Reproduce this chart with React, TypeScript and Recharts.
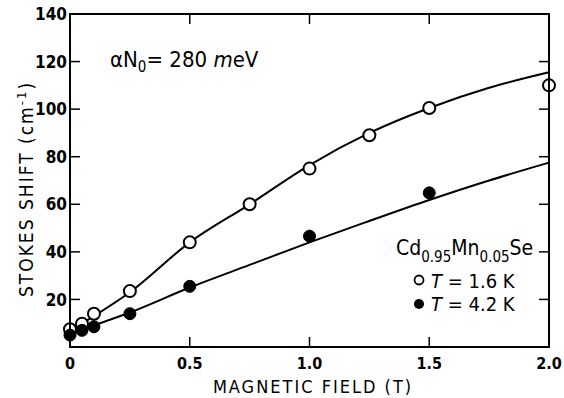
import React from 'react'
import { ComposedChart, Line, Scatter, XAxis, YAxis } from 'recharts'

// measured points, T = 1.6 K (open) and T = 4.2 K (filled)
const fieldOpen = [0, 0.05, 0.1, 0.25, 0.5, 0.75, 1.0, 1.25, 1.5, 2.0]
const shiftOpen = [7.5, 9.8, 14, 23.5, 44, 60, 75, 89, 100.5, 110]
const fieldFilled = [0, 0.05, 0.1, 0.25, 0.5, 1.0, 1.5]
const shiftFilled = [5, 7, 8.5, 14, 25.5, 46.6, 64.8]

// fitted curves
const fitField = [0, 0.1, 0.25, 0.5, 0.75, 1.0, 1.25, 1.5, 1.75, 2.0]
const fitOpen = [7, 13, 23, 44, 60, 76.5, 90, 100.5, 109, 115.5]
const fitFilled = [5, 9, 14.5, 25, 34.5, 44, 53, 61.8, 70, 77.5]

const xTicks = [0, 0.5, 1.0, 1.5, 2.0]
const yTicks = [20, 40, 60, 80, 100, 120, 140]

const W = 564
const H = 398
const LEFT = 70
const TOP = 14
const RIGHT = 549
const BOTTOM = 347
const TICK_LEN = 10
const FONT = '"DejaVu Sans Condensed", "DejaVu Sans", sans-serif'

const zip = (xs: number[], ys: number[]) => xs.map((x, i) => ({ x, y: ys[i] }))
const openPts = zip(fieldOpen, shiftOpen)
const filledPts = zip(fieldFilled, shiftFilled)
const fitOpenPts = zip(fitField, fitOpen)
const fitFilledPts = zip(fitField, fitFilled)

function YTick(props: any) {
  const { y, payload } = props
  const v = payload.value
  const inner = v !== 140
  return (
    <g>
      {inner && <line x1={LEFT} x2={LEFT + TICK_LEN} y1={y} y2={y} stroke="#000" strokeWidth={1.5} />}
      {inner && <line x1={RIGHT - TICK_LEN} x2={RIGHT} y1={y} y2={y} stroke="#000" strokeWidth={1.5} />}
      <text x={LEFT - 3} y={y} dy="0.36em" textAnchor="end" fontFamily={FONT} fontWeight="bold" fontSize={17} fill="#000">
        {v}
      </text>
    </g>
  )
}

function XTick(props: any) {
  const { x, payload } = props
  const v = payload.value
  const inner = v > 0 && v < 2
  return (
    <g>
      {inner && <line x1={x} x2={x} y1={BOTTOM} y2={BOTTOM - TICK_LEN} stroke="#000" strokeWidth={1.5} />}
      {inner && <line x1={x} x2={x} y1={TOP} y2={TOP + TICK_LEN} stroke="#000" strokeWidth={1.5} />}
      <text x={x} y={BOTTOM + 16} dy="0.36em" textAnchor="middle" fontFamily={FONT} fontWeight="bold" fontSize={16} fill="#000">
        {v === 0 ? '0' : v.toFixed(1)}
      </text>
    </g>
  )
}

const OpenDot = (p: any) => <circle cx={p.cx} cy={p.cy} r={6} fill="#fff" stroke="#000" strokeWidth={2} />
const FilledDot = (p: any) => <circle cx={p.cx} cy={p.cy} r={6} fill="#000" stroke="#000" strokeWidth={1} />

export default function App() {
  return (
    <div style={{ position: 'absolute', left: 0, top: 0, width: W, height: H, background: '#fff' }}>
      <ComposedChart
        width={W}
        height={H}
        margin={{ top: TOP, right: W - RIGHT, bottom: 21, left: 20 }}
      >
        <XAxis
          dataKey="x"
          type="number"
          domain={[0, 2]}
          ticks={xTicks}
          height={30}
          axisLine={false}
          tickLine={false}
          tick={<XTick />}
          allowDuplicatedCategory={false}
        />
        <YAxis
          type="number"
          domain={[0, 140]}
          ticks={yTicks}
          width={50}
          axisLine={false}
          tickLine={false}
          tick={<YTick />}
        />
        <Line data={fitOpenPts} dataKey="y" type="monotone" stroke="#000" strokeWidth={2} dot={false} activeDot={false} isAnimationActive={false} />
        <Line data={fitFilledPts} dataKey="y" type="monotone" stroke="#000" strokeWidth={2} dot={false} activeDot={false} isAnimationActive={false} />
        <Scatter data={openPts} dataKey="y" shape={<OpenDot />} isAnimationActive={false} />
        <Scatter data={filledPts} dataKey="y" shape={<FilledDot />} isAnimationActive={false} />
      </ComposedChart>
      <svg width={W} height={H} style={{ position: 'absolute', left: 0, top: 0, pointerEvents: 'none' }}>
        <rect x={LEFT} y={TOP} width={RIGHT - LEFT} height={BOTTOM - TOP} fill="none" stroke="#000" strokeWidth={2} />
        <text
          transform="translate(26,189) rotate(-90)"
          textAnchor="middle"
          dy="0.36em"
          fontFamily={FONT}
          fontSize={19}
          letterSpacing={2}
          fill="#000"
        >
          STOKES SHIFT (cm<tspan dy={-7} fontSize={13}>-1</tspan><tspan dy={7}>)</tspan>
        </text>
        <text x={313} y={393} textAnchor="middle" fontFamily={FONT} fontSize={18} letterSpacing={2} fill="#000">
          MAGNETIC FIELD (T)
        </text>
        <text x={110} y={67} fontFamily={FONT} fontSize={22} fill="#000">
          αN<tspan dy={5} fontSize={15}>0</tspan>
          <tspan dy={-5}>= 280 </tspan>
          <tspan fontStyle="italic">m</tspan>eV
        </text>
        <text x={396} y={255} fontFamily={FONT} fontSize={21} fill="#000">
          Cd<tspan dy={7} fontSize={15}>0.95</tspan>
          <tspan dy={-7}>Mn</tspan>
          <tspan dy={7} fontSize={15}>0.05</tspan>
          <tspan dy={-7}>Se</tspan>
        </text>
        <circle cx={419} cy={280} r={4.5} fill="#fff" stroke="#000" strokeWidth={1.8} />
        <text x={431} y={288} fontFamily={FONT} fontSize={20} fill="#000">
          <tspan fontStyle="italic">T</tspan> = 1.6 K
        </text>
        <circle cx={419} cy={304} r={5} fill="#000" />
        <text x={431} y={311} fontFamily={FONT} fontSize={20} fill="#000">
          <tspan fontStyle="italic">T</tspan> = 4.2 K
        </text>
      </svg>
    </div>
  )
}
